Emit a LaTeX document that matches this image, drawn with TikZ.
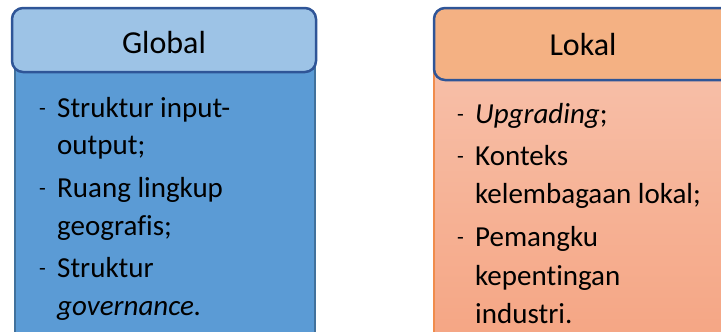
\documentclass[tikz,border=0pt]{standalone}
\usepackage{fontspec}
\setmainfont{Carlito}[Ligatures={NoCommon}]
\definecolor{hdrblue}{HTML}{9DC3E6}
\definecolor{bodyblue}{HTML}{5B9BD5}
\definecolor{edgeblue}{HTML}{2F5597}
\definecolor{bodyedge}{HTML}{41719C}
\definecolor{hdrorange}{HTML}{F4B183}
\definecolor{orangetop}{HTML}{F7BFA8}
\definecolor{orangebot}{HTML}{F5A583}
\definecolor{orangeedge}{HTML}{F08C4C}
\tikzset{
  txt/.style={anchor=base west, inner sep=0pt, font=\fontsize{29}{35}\selectfont},
  hdrtxt/.style={anchor=base, inner sep=0pt, font=\fontsize{32}{38}\selectfont},
  dsh/.style={anchor=base west, inner sep=0pt, font=\fontsize{22}{26}\selectfont}
}
\begin{document}
\begin{tikzpicture}[x=1pt,y=-1pt]
\useasboundingbox (0,0) rectangle (721,332);
\clip (0,0) rectangle (721,332);
% Global
\fill[bodyblue,draw=bodyedge,line width=1.5pt] (15,60) rectangle (315,345);
\draw[fill=hdrblue,draw=edgeblue,line width=2.5pt,rounded corners=11pt] (12,8) rectangle (316,72);
\node[hdrtxt] (gtitle) at (164,53) {Global};
\node[dsh] (gd1) at (39,115) {-};
\node[txt] (g1) at (57,117) {Struktur input-};
\node[txt] (g2) at (57,154) {output;};
\node[dsh] (gd2) at (39,195) {-};
\node[txt] (g3) at (57,197) {Ruang lingkup};
\node[txt] (g4) at (57,235) {geografis;};
\node[dsh] (gd3) at (39,275) {-};
\node[txt] (g5) at (57,277) {Struktur};
\node[txt] (g6) at (57,315) {\itshape governance.};
% Lokal
\shade[top color=orangetop,bottom color=orangebot] (434,70) rectangle (740,345);
\draw[orangeedge,line width=1.5pt] (434,70) -- (434,345);
\draw[fill=hdrorange,draw=edgeblue,line width=2.5pt,rounded corners=11pt] (434,8) rectangle (745,80);
\node[hdrtxt] (ltitle) at (583,55) {Lokal};
\node[dsh] (ld1) at (457,121) {-};
\node[txt] (l1) at (475,123) {\textit{Upgrading};};
\node[dsh] (ld2) at (457,163) {-};
\node[txt] (l2) at (475,165) {Konteks};
\node[txt] (l3) at (475,203) {kelembagaan lokal;};
\node[dsh] (ld3) at (457,244) {-};
\node[txt] (l4) at (475,246) {Pemangku};
\node[txt] (l5) at (475,285) {kepentingan};
\node[txt] (l6) at (475,323) {industri.};
\end{tikzpicture}
\end{document}
